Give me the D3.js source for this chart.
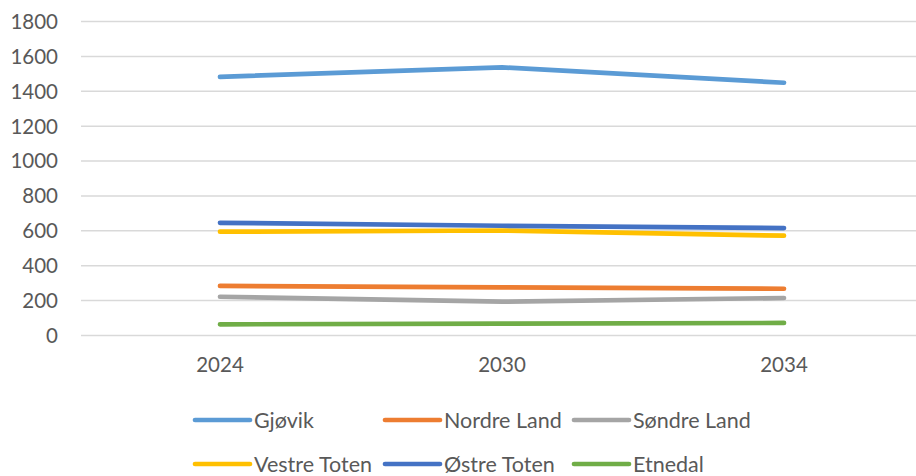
<!DOCTYPE html>
<html>
<head>
<meta charset="utf-8">
<script src="https://cdn.jsdelivr.net/npm/d3@7"></script>
<style>
  body { margin: 0; background: #fff; }
  text { font-family: Lato, "Open Sans", sans-serif; fill: #595959; }
</style>
</head>
<body>
<div id="chart"></div>
<script>
// Données
var years = ["2024", "2030", "2034"];
var seriesNames = ["Gjøvik", "Nordre Land", "Søndre Land", "Vestre Toten", "Østre Toten", "Etnedal"];
var gjovik = [1483, 1537, 1449];
var nordreLand = [284, 276, 268];
var sondreLand = [222, 194, 215];
var vestreToten = [595, 602, 572];
var ostreToten = [646, 629, 616];
var etnedal = [64, 68, 72];
var yTicks = [0, 200, 400, 600, 800, 1000, 1200, 1400, 1600, 1800];
var colors = ["#5b9bd5", "#ed7d31", "#a5a5a5", "#ffc000", "#4472c4", "#70ad47"];

var allValues = [gjovik, nordreLand, sondreLand, vestreToten, ostreToten, etnedal];

var width = 916, height = 476;

var svg = d3.select("#chart")
    .append("svg")
    .attr("width", width)
    .attr("height", height);

// Axes
var x = d3.scalePoint().domain(years).range([220, 784]);
var y = d3.scaleLinear().domain([0, 1800]).range([335.5, 21.5]);

// Lignes de grille
svg.append("g")
    .selectAll("line")
    .data(yTicks)
    .enter()
    .append("line")
    .attr("x1", 81)
    .attr("x2", width)
    .attr("y1", d => y(d))
    .attr("y2", d => y(d))
    .attr("stroke", "#d9d9d9")
    .attr("stroke-width", 1.5);

// Etiquettes Y
svg.append("g")
    .selectAll("text")
    .data(yTicks)
    .enter()
    .append("text")
    .attr("x", 58)
    .attr("y", d => y(d))
    .attr("dy", "0.36em")
    .attr("text-anchor", "end")
    .style("font-size", "20.5px")
    .text(d => d);

// Etiquettes X
svg.append("g")
    .selectAll("text")
    .data(years)
    .enter()
    .append("text")
    .attr("x", d => x(d))
    .attr("y", 372)
    .attr("text-anchor", "middle")
    .style("font-size", "20.5px")
    .text(d => d);

// Courbes
var line = d3.line()
    .x((d, i) => x(years[i]))
    .y(d => y(d));

svg.append("g")
    .selectAll("path")
    .data(allValues)
    .enter()
    .append("path")
    .attr("d", d => line(d))
    .attr("fill", "none")
    .attr("stroke", (d, i) => colors[i])
    .attr("stroke-width", 4.7)
    .attr("stroke-linecap", "round")
    .attr("stroke-linejoin", "round");

// Légende
var legendX = [195, 385, 574];
var legendY = [420, 464];
var legend = svg.append("g")
    .selectAll("g")
    .data(seriesNames)
    .enter()
    .append("g")
    .attr("transform", (d, i) => "translate(" + legendX[i % 3] + "," + legendY[Math.floor(i / 3)] + ")");

legend.append("line")
    .attr("x1", 0)
    .attr("x2", 55)
    .attr("stroke", (d, i) => colors[i])
    .attr("stroke-width", 4.7)
    .attr("stroke-linecap", "round");

legend.append("text")
    .attr("x", 59)
    .attr("dy", "0.36em")
    .style("font-size", "21.5px")
    .text(d => d);
</script>
</body>
</html>
